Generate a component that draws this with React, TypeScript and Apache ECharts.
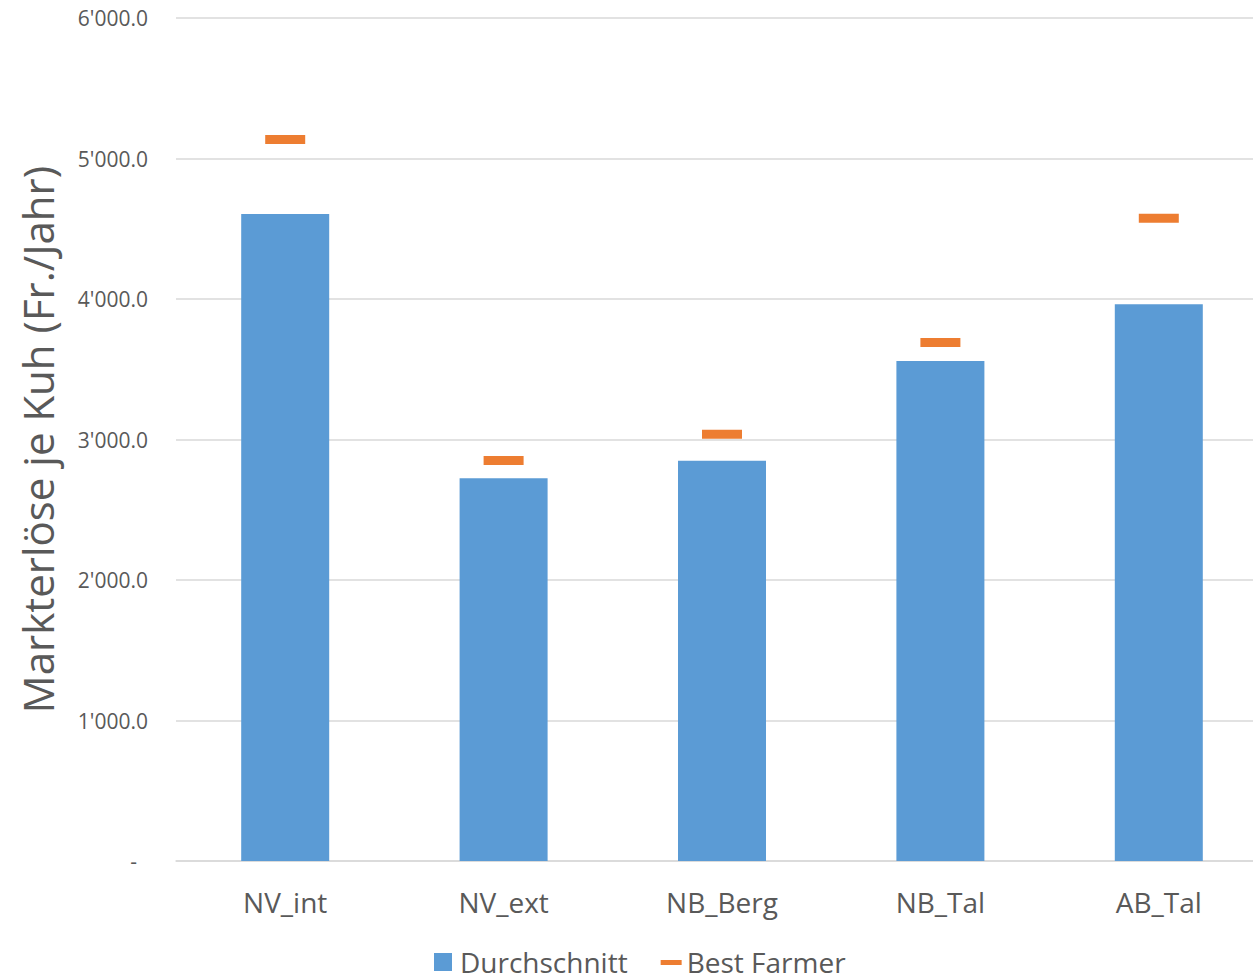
import React, { useEffect, useRef } from "react";
import * as echarts from "echarts";

const categories = ["NV_int", "NV_ext", "NB_Berg", "NB_Tal", "AB_Tal"];
const durchschnitt = [4605, 2724, 2848, 3559, 3963];
const bestFarmer = [5135, 2850, 3037, 3690, 4574];
const yTicks = [0, 1000, 2000, 3000, 4000, 5000, 6000];

const FONT = "'Open Sans', sans-serif";
const GREY = "#595959";

function fmt(v: number): string {
  if (v === 0) return "{d|-}";
  const s = Math.round(v).toString();
  const withSep = s.replace(/\B(?=(\d{3})+(?!\d))/g, "'");
  return withSep + ".0";
}

export default function App() {
  const ref = useRef<HTMLDivElement>(null);
  useEffect(() => {
    document.body.style.margin = "0";
    const chart = echarts.init(ref.current!, null, { renderer: "svg" });
    chart.setOption({
      animation: false,
      backgroundColor: "#ffffff",
      textStyle: { fontFamily: FONT },
      grid: { left: 176, top: 18, right: 0, bottom: 119, containLabel: false },
      legend: {
        left: 434,
        top: 948,
        padding: 0,
        itemWidth: 21,
        itemHeight: 18,
        itemGap: 33,
        textStyle: { fontFamily: FONT, fontSize: 28, color: GREY },
        data: [
          { name: "Durchschnitt", icon: "path://M0,0 H18 V18 H0 Z M21,18" },
          { name: "Best Farmer", icon: "path://M0,0 M0,7 H21 V12 H0 Z M21,18" },
        ],
      },
      xAxis: {
        type: "category",
        data: categories,
        axisLine: { show: true, lineStyle: { color: "#D9D9D9", width: 1.5 } },
        axisTick: { show: false },
        axisLabel: { fontFamily: FONT, fontSize: 28, color: GREY, margin: 27 },
      },
      yAxis: {
        type: "value",
        min: yTicks[0],
        max: yTicks[yTicks.length - 1],
        interval: 1000,
        name: "Markterlöse je Kuh (Fr./Jahr)",
        nameLocation: "middle",
        nameRotate: 90,
        nameGap: 118,
        nameTextStyle: { fontFamily: FONT, fontSize: 42, color: GREY },
        axisLine: { show: false },
        axisTick: { show: false },
        splitLine: { lineStyle: { color: "#D9D9D9", width: 1.5 } },
        axisLabel: {
          fontFamily: FONT,
          fontSize: 21,
          color: GREY,
          margin: 28,
          formatter: (v: number) => fmt(v),
          rich: { d: { fontFamily: FONT, fontSize: 21, color: GREY, padding: [0, 11, 0, 0] } },
        },
      },
      series: [
        {
          name: "Durchschnitt",
          type: "bar",
          data: durchschnitt,
          barWidth: 88,
          itemStyle: { color: "#5B9BD5" },
        },
        {
          name: "Best Farmer",
          type: "scatter",
          data: bestFarmer,
          symbol: "rect",
          symbolSize: [40, 9],
          itemStyle: { color: "#ED7D31", opacity: 1 },
          z: 5,
        },
      ],
    });
    return () => chart.dispose();
  }, []);
  return (
    <div style={{ width: 1253, height: 980, overflow: "hidden", position: "relative" }}>
      <div ref={ref} style={{ width: 1268, height: 980 }} />
    </div>
  );
}
